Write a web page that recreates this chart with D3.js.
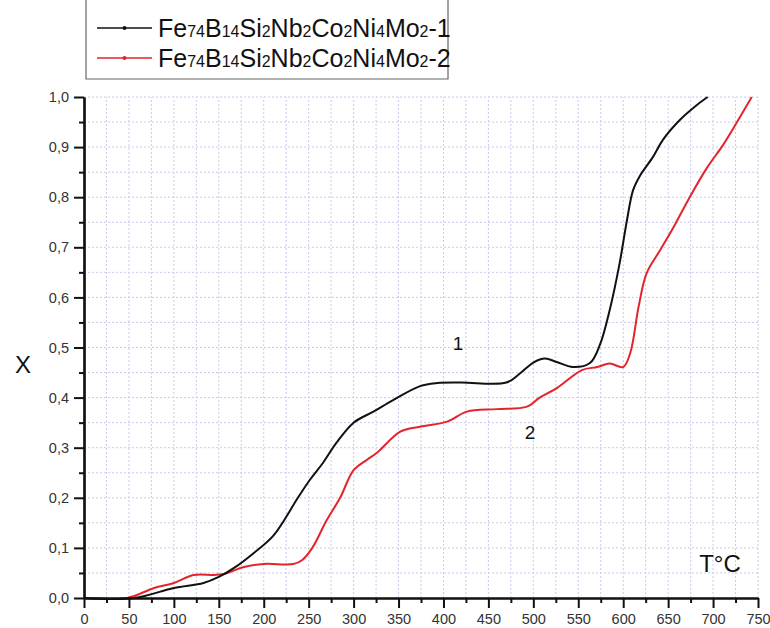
<!DOCTYPE html>
<html>
<head>
<meta charset="utf-8">
<script src="https://cdn.jsdelivr.net/npm/d3@7"></script>
<style>
  body { margin: 0; background: #fff; }
  text { font-family: "Liberation Sans", Arial, sans-serif; }
</style>
</head>
<body>
<div id="chart"></div>
<script>
// series 1 (black) and series 2 (red), T in °C, X fraction
const temp1 = [0, 56, 100, 133, 150, 167, 189, 211, 238, 251, 266, 281, 300, 322, 344, 374, 393, 420, 470, 485, 500, 513, 526, 544, 563, 574, 585, 596, 604, 611, 619, 633, 644, 663, 682, 694];
const x1 = [0, 0, 0.02, 0.03, 0.042, 0.06, 0.09, 0.125, 0.2, 0.235, 0.27, 0.31, 0.35, 0.372, 0.395, 0.423, 0.429, 0.43, 0.43, 0.448, 0.47, 0.478, 0.471, 0.461, 0.469, 0.505, 0.575, 0.668, 0.752, 0.814, 0.844, 0.88, 0.914, 0.954, 0.984, 1.0];
const temp2 = [0, 48, 78, 100, 122, 145, 156, 178, 200, 233, 243, 254, 270, 285, 300, 315, 326, 352, 374, 404, 426, 459, 493, 507, 527, 554, 571, 585, 600, 608, 617, 626, 641, 656, 674, 693, 711, 726, 743];
const x2 = [0, 0, 0.02, 0.03, 0.046, 0.046, 0.048, 0.062, 0.068, 0.068, 0.076, 0.1, 0.155, 0.2, 0.255, 0.276, 0.29, 0.332, 0.342, 0.352, 0.372, 0.377, 0.382, 0.4, 0.42, 0.455, 0.461, 0.468, 0.461, 0.49, 0.58, 0.648, 0.694, 0.74, 0.8, 0.858, 0.904, 0.948, 1.0];
const xMajor = d3.range(0, 751, 50);
const yMajor = d3.range(0, 1.0001, 0.1);
const seriesNames = ["-1", "-2"];
const seriesColors = ["#111111", "#e3242b"];

const width = 770, height = 628;
const svg = d3.select("#chart").append("svg")
  .attr("width", width).attr("height", height);

const x = d3.scaleLinear().domain([0, 750]).range([84, 758]);
const y = d3.scaleLinear().domain([0, 1]).range([598, 97]);

// grid
const grid = svg.append("g").attr("stroke", "#c9c9f0").attr("stroke-width", 1).attr("stroke-dasharray", "2,2");
grid.selectAll(".gv").data(d3.range(25, 751, 25)).enter().append("line")
  .attr("x1", d => x(d)).attr("x2", d => x(d)).attr("y1", y(0)).attr("y2", y(1));
grid.selectAll(".gh").data(d3.range(0.05, 1.0001, 0.05)).enter().append("line")
  .attr("y1", d => y(d)).attr("y2", d => y(d)).attr("x1", x(0)).attr("x2", x(750));

// curves
const line = d3.line().x(d => x(d[0])).y(d => y(d[1])).curve(d3.curveCatmullRom.alpha(0.5));
const data1 = temp1.map((t, i) => [t, x1[i]]);
const data2 = temp2.map((t, i) => [t, x2[i]]);
[data2, data1].forEach((d, i) => {
  svg.append("path").datum(d)
    .attr("fill", "none")
    .attr("stroke", i === 0 ? seriesColors[1] : seriesColors[0])
    .attr("stroke-width", 2)
    .attr("d", line);
});

// axes
const fmt = d3.format(".1f");
const xAxis = svg.append("g").attr("transform", `translate(0,${y(0)})`)
  .call(d3.axisBottom(x).tickValues(xMajor).tickSize(10).tickSizeOuter(0).tickFormat(d3.format("d")));
svg.append("g").attr("transform", `translate(0,${y(0)})`)
  .call(d3.axisBottom(x).tickValues(d3.range(25, 750, 50)).tickSize(5).tickSizeOuter(0).tickFormat(""));
const yAxis = svg.append("g").attr("transform", `translate(${x(0)},0)`)
  .call(d3.axisLeft(y).tickValues(yMajor).tickSize(10).tickSizeOuter(0).tickFormat(d => fmt(d).replace(".", ",")));
svg.append("g").attr("transform", `translate(${x(0)},0)`)
  .call(d3.axisLeft(y).tickValues(d3.range(0.05, 1, 0.1)).tickSize(5).tickSizeOuter(0).tickFormat(""));
svg.selectAll(".domain").attr("stroke", "#111").attr("stroke-width", 2.2);
svg.selectAll(".tick line").attr("stroke", "#111").attr("stroke-width", 2);
svg.selectAll(".tick text").attr("fill", "#333").style("font-size", "14.5px")
  .style("font-family", "'Liberation Sans', Arial, sans-serif");
xAxis.selectAll(".tick text").attr("y", 16).attr("dy", "0.71em");
yAxis.selectAll(".tick text").attr("x", -15);

// axis titles & annotations
svg.append("text").attr("x", 23).attr("y", 373).attr("text-anchor", "middle")
  .style("font-size", "24px").attr("fill", "#111").text("X");
svg.append("text").attr("x", 720).attr("y", 572).attr("text-anchor", "middle")
  .style("font-size", "24px").attr("fill", "#111").text("T°C");
svg.append("text").attr("x", 458).attr("y", 350).attr("text-anchor", "middle")
  .style("font-size", "19px").attr("fill", "#111").text("1");
svg.append("text").attr("x", 530).attr("y", 439).attr("text-anchor", "middle")
  .style("font-size", "19px").attr("fill", "#111").text("2");

// legend
const legend = svg.append("g");
legend.append("path").attr("d", "M86,0V79H448V0").attr("fill", "none").attr("stroke", "#666").attr("stroke-width", 1.2);
const parts = [["Fe", 0], ["74", 1], ["B", 0], ["14", 1], ["Si", 0], ["2", 1], ["Nb", 0], ["2", 1], ["Co", 0], ["2", 1], ["Ni", 0], ["4", 1], ["Mo", 0], ["2", 1]];
seriesNames.forEach((name, i) => {
  const ly = 28 + i * 30;
  legend.append("line").attr("x1", 97).attr("x2", 152).attr("y1", ly).attr("y2", ly)
    .attr("stroke", seriesColors[i]).attr("stroke-width", 1.6);
  legend.append("circle").attr("cx", 124.5).attr("cy", ly).attr("r", 2).attr("fill", seriesColors[i]);
  const t = legend.append("text").attr("x", 158).attr("y", ly + 9).attr("fill", "#111").style("font-size", "25px");
  parts.forEach(p => {
    t.append("tspan").style("font-size", p[1] ? "16px" : "25px").text(p[0]);
  });
  t.append("tspan").style("font-size", "25px").text(name);
});
</script>
</body>
</html>
